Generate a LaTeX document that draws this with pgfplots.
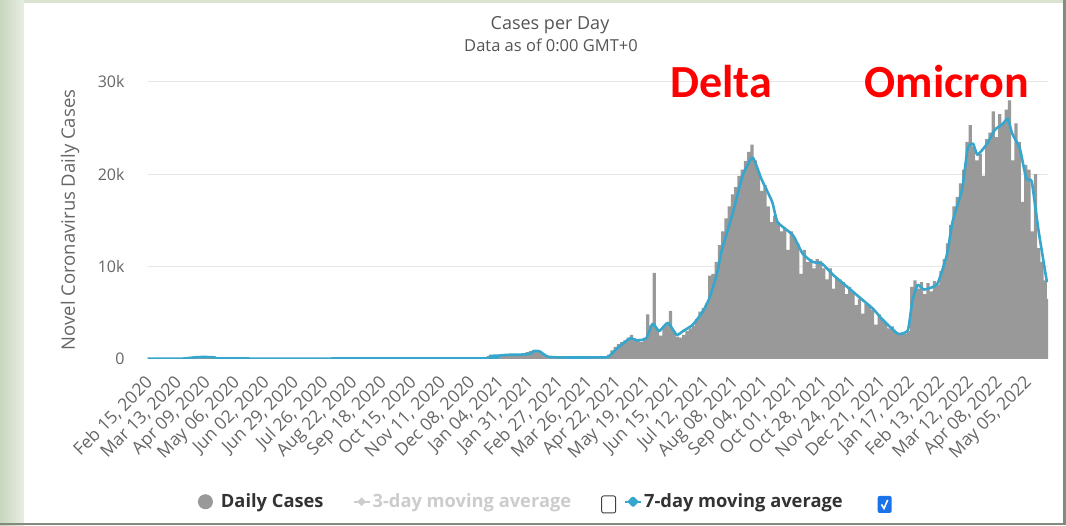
\documentclass[border=0pt]{standalone}
\usepackage{fontspec}
\setmainfont{Open Sans}
\newfontfamily\callfont{Carlito}
\usepackage{pgfplots}
\pgfplotsset{compat=1.18}
\usepackage{pgfplotstable}
\definecolor{barc}{HTML}{999999}
\definecolor{linec}{RGB}{55,166,204}
\definecolor{gridc}{HTML}{E6E6E6}
\definecolor{axisc}{HTML}{CCD6EB}
\definecolor{textc}{HTML}{666666}
\definecolor{titlec}{HTML}{555555}
\definecolor{legc}{HTML}{333333}
\definecolor{lgray}{HTML}{CCCCCC}
\definecolor{cbblue}{HTML}{1A73E8}
\definecolor{bggreen}{HTML}{D9E3D0}
\definecolor{bgdark}{HTML}{C9D6BE}
\definecolor{bordc}{HTML}{858A7E}

\newcommand{\cboxoff}{\tikz[baseline={(0,5pt)}]{\draw[draw=black!75, line width=0.9pt, rounded corners=2pt, fill=white] (0,0) rectangle (14pt,17pt);}}
\newcommand{\cboxon}{\tikz[baseline={(0,5pt)}]{\fill[cbblue, rounded corners=2pt] (0,0) rectangle (14pt,17pt); \draw[white, line width=1.6pt] (3.8pt,8.5pt) -- (6.3pt,4.5pt) -- (10pt,13pt);}}

\pgfplotstableread{
day cases
0 0.01
30 0.03
36 0.12
42 0.20
48 0.24
54 0.20
60 0.15
66 0.08
72 0.04
78 0.02
309 0.05
312 0.30
315 0.38
318 0.25
321 0.42
324 0.33
327 0.48
330 0.40
333 0.52
336 0.36
339 0.47
342 0.52
345 0.42
348 0.72
351 0.85
354 0.95
357 0.90
360 0.72
363 0.50
366 0.30
369 0.20
372 0.16
375 0.15
378 0.14
381 0.15
384 0.13
387 0.15
390 0.14
393 0.16
396 0.13
399 0.15
402 0.14
405 0.16
408 0.15
411 0.17
414 0.16
417 0.18
420 0.25
423 0.45
426 0.90
429 1.30
432 1.60
435 1.80
438 2.00
441 2.30
444 2.60
447 2.00
450 2.10
453 1.80
456 2.30
459 4.80
462 3.60
465 9.30
468 3.20
471 2.50
474 3.50
477 3.80
480 5.20
483 3.00
486 2.40
489 2.30
492 2.60
495 3.00
498 3.30
501 3.60
504 4.30
507 5.10
510 5.50
513 6.00
516 9.00
519 9.20
522 10.5
525 12.3
528 13.8
531 15.2
534 16.5
537 17.8
540 18.6
543 19.8
546 20.5
549 21.4
552 22.4
555 23.2
558 21.5
561 20.3
564 18.2
567 18.8
570 16.5
573 14.8
576 15.5
579 14.8
582 13.8
585 14.2
588 11.8
591 13.8
594 13.2
597 12.5
600 9.2
603 11.8
606 10.5
609 10.8
612 9.8
615 10.8
618 10.6
621 9.8
624 8.6
627 9.8
630 7.6
633 8.8
636 8.6
639 8.3
642 7.0
645 7.8
648 7.3
651 5.8
654 6.5
657 4.9
660 6.0
663 5.8
666 5.3
669 3.7
672 4.8
675 4.3
678 3.9
681 3.3
684 3.5
687 2.9
690 2.6
693 2.8
696 2.7
699 3.0
702 7.8
705 8.5
708 7.6
711 8.3
714 7.0
717 8.2
720 7.3
723 8.4
726 8.0
729 9.5
732 10.8
735 12.5
738 14.5
741 16.5
744 17.5
747 19.0
750 20.5
753 23.5
756 25.3
759 23.0
762 21.5
765 22.2
768 19.8
771 23.8
774 24.5
777 26.8
780 24.0
783 26.5
786 25.5
789 27.0
792 28.0
795 21.5
798 25.5
801 23.5
804 17.0
807 21.0
810 20.5
813 13.8
816 20.0
819 12.0
822 10.5
825 8.5
828 6.5
831 6.5
}\daily

\pgfplotstableread{
day avg
0 0.01
32 0.02
43 0.15
52 0.20
62 0.15
74 0.03
313 0.05
315 0.30
324 0.35
331 0.43
343 0.45
352 0.55
356 0.85
361 0.80
368 0.25
379 0.15
416 0.15
424 0.20
432 1.1
444 2.2
451 2.0
459 2.2
465 3.8
471 3.0
479 3.9
487 2.6
493 3.0
502 3.7
511 5.1
517 6.5
524 9.1
529 11.9
539 15.9
548 19.9
557 21.8
565 19.5
575 17.0
580 14.8
594 13.4
603 11.4
612 10.5
621 10.3
631 9.1
644 7.8
658 6.4
668 5.4
677 4.2
691 2.7
700 3.1
704 6.2
709 8.0
715 7.5
727 8.1
736 11.3
741 14.8
750 18.4
755 22.8
760 23.3
764 22.1
773 23.3
780 24.8
787 25.4
792 26.0
796 24.4
803 22.8
809 19.5
814 19.2
820 14.1
828 8.3
}\seven

\begin{document}
\begin{tikzpicture}[x=1pt,y=1pt]
\useasboundingbox (0,0) rectangle (1066,525);
% background (slide frame)
\fill[bggreen] (0,0) rectangle (1066,525);
\shade[left color=bgdark, right color=bggreen!60!white] (0,0) rectangle (24,525);
\fill[white] (24,2) rectangle (1063,522);
\fill[bordc] (1063,0) rectangle (1066,525);
\fill[bordc] (0,0) rectangle (1066,2);

\begin{axis}[
  at={(136,180)}, anchor=south west,
  scale only axis, width=900.3pt, height=277pt,
  xmin=0, xmax=829, ymin=0, ymax=30,
  axis line style={draw=none},
  tick style={draw=none},
  major tick length=0pt,
  ytick={10,20,30}, yticklabels={10k,20k,30k},
  extra y ticks={0}, extra y tick labels={0},
  extra y tick style={grid=major, major grid style={color=axisc, line width=1pt}},
  ymajorgrids, major grid style={color=gridc, line width=1pt},
  xtick={0,27,...,810},
  xticklabels={{Feb 15, 2020},{Mar 13, 2020},{Apr 09, 2020},{May 06, 2020},{Jun 02, 2020},{Jun 29, 2020},{Jul 26, 2020},{Aug 22, 2020},{Sep 18, 2020},{Oct 15, 2020},{Nov 11, 2020},{Dec 08, 2020},{Jan 04, 2021},{Jan 31, 2021},{Feb 27, 2021},{Mar 26, 2021},{Apr 22, 2021},{May 19, 2021},{Jun 15, 2021},{Jul 12, 2021},{Aug 08, 2021},{Sep 04, 2021},{Oct 01, 2021},{Oct 28, 2021},{Nov 24, 2021},{Dec 21, 2021},{Jan 17, 2022},{Feb 13, 2022},{Mar 12, 2022},{Apr 08, 2022},{May 05, 2022}},
  /pgf/number format/assume math mode=true,
  x tick label style={xshift=2pt, yshift=-21pt, rotate=45, anchor=east, inner sep=0pt, font=\fontsize{17.5}{20}\selectfont, text=textc},
  y tick label style={anchor=east, inner sep=0pt, xshift=-23pt, font=\fontsize{16}{19}\selectfont, text=textc},
  clip=true,
  legend style={at={(0.4422,-0.516)}, anchor=center, draw=none, fill=none,
    legend columns=-1, text=legc,
    font=\bfseries\fontsize{18.3}{21}\selectfont,
    /tikz/every even column/.append style={column sep=2pt}},
]
\addplot[ybar interval, fill=barc, draw=none,
  legend image code/.code={\fill[barc] (0pt,0pt) circle (7.5pt); \path (13.5pt,0pt);}]
  table[x=day, y=cases] {\daily};
\addlegendentry{Daily Cases\hspace{25pt}\mbox{}}
\addlegendimage{legend image code/.code={\draw[lgray, line width=2pt] (0pt,0pt) -- (16pt,0pt); \fill[lgray] (8pt,4pt) -- (12pt,0pt) -- (8pt,-4pt) -- (4pt,0pt) -- cycle;}}
\addlegendentry{\textcolor{lgray}{3-day moving average}\hspace{30pt}\cboxoff\hspace{4pt}\mbox{}}
\addplot[color=linec, line width=2.6pt, smooth, tension=0.3, line join=round,
  legend image code/.code={\draw[linec, line width=2pt] (0pt,0pt) -- (16pt,0pt); \fill[linec] (8pt,4pt) -- (12pt,0pt) -- (8pt,-4pt) -- (4pt,0pt) -- cycle;}]
  table[x=day, y=avg] {\seven};
\addlegendentry{7-day moving average\hspace{35pt}\cboxon}
\end{axis}

\node[font=\fontsize{18}{21}\selectfont, text=titlec] at (550,500) {Cases per Day};
\node[font=\fontsize{16.5}{19}\selectfont, text=titlec] at (551,480) {Data as of 0:00 GMT+0};
\node[rotate=90, font=\fontsize{18.5}{21}\selectfont, text=textc] at (70,305) {Novel Coronavirus Daily Cases};
\node[anchor=base, font=\callfont\bfseries\fontsize{46}{50}\selectfont, text=red] at (721,427) {Delta};
\node[anchor=base, font=\callfont\bfseries\fontsize{46}{50}\selectfont, text=red] at (947,427) {Omicron};
\end{tikzpicture}
\end{document}
